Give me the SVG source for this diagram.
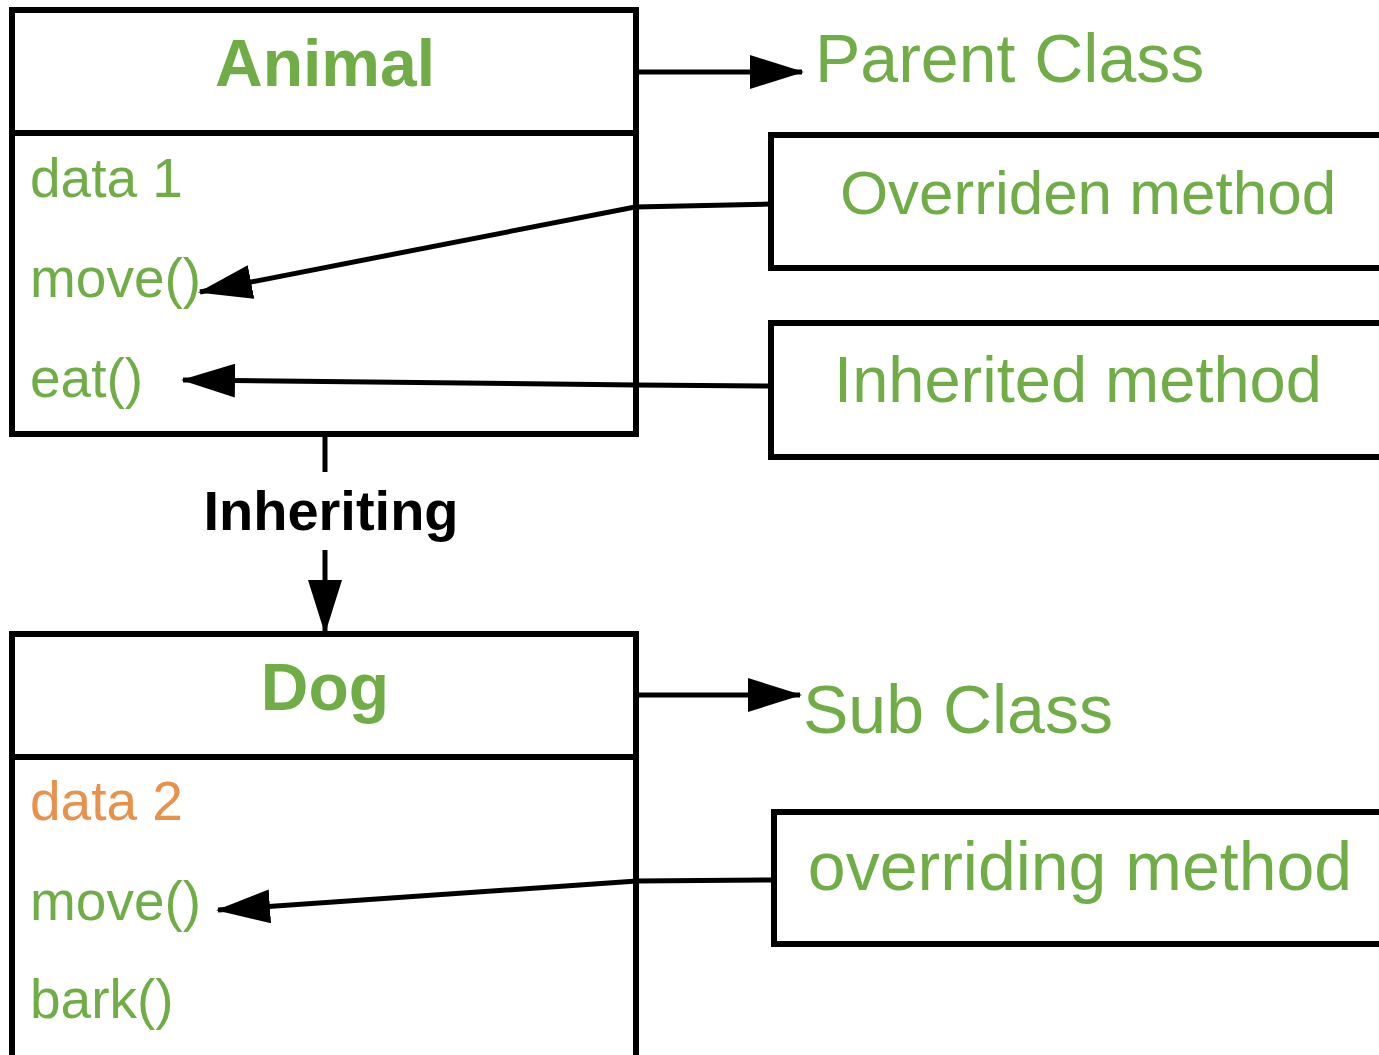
<svg xmlns="http://www.w3.org/2000/svg" width="1379" height="1055" viewBox="0 0 1379 1055">
<defs>
<style>
.box{fill:#fff;stroke:#000;stroke-width:6}
.div{stroke:#000;stroke-width:6}
.title{font-family:"Liberation Sans",Arial,sans-serif;font-weight:bold;font-size:66px;fill:#70AD47;text-anchor:middle}
.mem{font-family:"Liberation Sans",Arial,sans-serif;font-size:55px;fill:#70AD47}
.orange{fill:#E8914A}
.lbl{font-family:"Liberation Sans",Arial,sans-serif;font-size:68px;fill:#70AD47}
.note{font-family:"Liberation Sans",Arial,sans-serif;font-size:62px;fill:#70AD47;text-anchor:middle}
.conn{fill:none;stroke:#000;stroke-width:5;marker-end:url(#arr)}
.edge{font-family:"Liberation Sans",Arial,sans-serif;font-weight:bold;font-size:56px;fill:#000;text-anchor:middle}
</style>
<marker id="arr" markerUnits="userSpaceOnUse" viewBox="0 0 54 34" markerWidth="54" markerHeight="34" refX="52" refY="17" orient="auto">
<path d="M0,0 L54,17 L0,34 z" fill="#000"/>
</marker>
</defs>
<rect width="1379" height="1055" fill="#fff"/>

<g id="animal">
<rect class="box" x="12" y="10" width="624" height="424"/>
<line class="div" x1="12" y1="133" x2="636" y2="133"/>
<text class="title" x="325" y="86">Animal</text>
<text class="mem" x="30" y="197">data 1</text>
<text class="mem" x="30" y="297">move()</text>
<text class="mem" x="30" y="397">eat()</text>
</g>

<g id="dog">
<rect class="box" x="12" y="634" width="624" height="440"/>
<line class="div" x1="12" y1="757" x2="636" y2="757"/>
<text class="title" x="325" y="710">Dog</text>
<text class="mem orange" x="30" y="820">data 2</text>
<text class="mem" x="30" y="920">move()</text>
<text class="mem" x="30" y="1018">bark()</text>
</g>

<g id="parent-class">
<text class="lbl" x="815" y="82">Parent Class</text>
</g>

<g id="sub-class">
<text class="lbl" x="803" y="733">Sub Class</text>
</g>

<g id="overriden-method">
<rect class="box" x="771" y="135" width="640" height="133"/>
<text class="note" x="1088" y="214">Overriden method</text>
</g>

<g id="inherited-method">
<rect class="box" x="771" y="323" width="640" height="134"/>
<text class="note" x="1078" y="402" style="font-size:65px">Inherited method</text>
</g>

<g id="overriding-method">
<rect class="box" x="774" y="812" width="640" height="132"/>
<text class="note" x="1080" y="890" style="font-size:68px">overriding method</text>
</g>

<g id="connectors">
<path class="conn" d="M638,72 L802,72"/>
<path class="conn" d="M638,695 L800,695"/>
<path class="conn" d="M771,204 L635,207 L200,292"/>
<path class="conn" d="M771,386 L637,385 L183,380"/>
<path class="conn" d="M774,880 L637,881 L218,910"/>
<path d="M325,436 L325,472" fill="none" stroke="#000" stroke-width="5"/>
<path class="conn" d="M325,550 L325,632"/>
<text class="edge" x="331" y="530">Inheriting</text>
</g>
</svg>
